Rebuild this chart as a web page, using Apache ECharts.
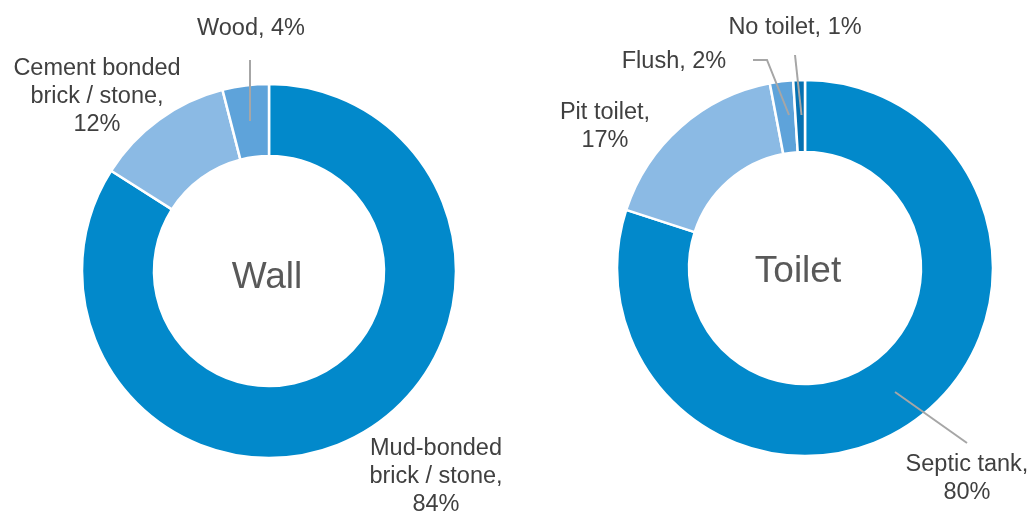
<!DOCTYPE html>
<html>
<head>
<meta charset="utf-8">
<script src="https://cdn.jsdelivr.net/npm/echarts@6/dist/echarts.min.js"></script>
<style>
html,body{margin:0;padding:0;background:#fff;}
#main{width:1030px;height:512px;}
</style>
</head>
<body>
<div id="main"></div>
<script>
// data
var wallNames=['Mud-bonded\nbrick / stone','Cement bonded\nbrick / stone','Wood'];
var wallValues=[84,12,4];
var toiletNames=['Septic tank','Pit toilet','Flush','No toilet'];
var toiletValues=[80,17,2,1];

var wallColors=['#0289cb','#8bbae4','#5ea3da'];
var toiletColors=['#0289cb','#8bbae4','#5ea3da','#0671b1'];

// label placement (x,y = centre of label), leader line if any
var wallLabels=[
  {x:436,y:477,br:true},
  {x:97,y:97,br:true},
  {x:251,y:29,br:false,line:[[250,121],[250,60]]}
];
var toiletLabels=[
  {x:967,y:479,br:true,line:[[895,392],[967,443]]},
  {x:605,y:127,br:true},
  {x:674,y:62,br:false,line:[[789,115],[767,60],[753,60]]},
  {x:795,y:28,br:false,line:[[801.5,115],[795,55]]}
];

var myChart=echarts.init(document.getElementById('main'));

function buildData(names,values,colors){
  return names.map(function(n,i){
    return {name:n,value:values[i],itemStyle:{color:colors[i]}};
  });
}

function makeSeries(names,values,colors,labels,center,radius){
  return {
    type:'pie',
    center:center,
    radius:radius,
    startAngle:90,
    clockwise:true,
    animation:false,
    avoidLabelOverlap:false,
    itemStyle:{borderColor:'#fff',borderWidth:2.5},
    label:{
      show:true,
      position:'outside',
      color:'#404040',
      fontFamily:'Liberation Sans, Arial, sans-serif',
      fontSize:23.5,
      lineHeight:28,
      align:'center',
      formatter:function(p){
        return p.name+','+(labels[p.dataIndex].br?'\n':' ')+p.value+'%';
      }
    },
    labelLine:{show:false},
    labelLayout:function(p){
      var l=labels[p.dataIndex];
      return {x:l.x,y:l.y,align:'center',verticalAlign:'middle'};
    },
    emphasis:{disabled:true},
    data:buildData(names,values,colors)
  };
}

// leader lines drawn on top of the rings
function leaderLines(labels){
  return labels.filter(function(l){return l.line;}).map(function(l){
    return {type:'polyline',z:100,shape:{points:l.line},style:{stroke:'#a6a6a6',lineWidth:2,fill:null}};
  });
}

option={
  backgroundColor:'#fff',
  series:[
    makeSeries(wallNames,wallValues,wallColors,wallLabels,[269,271],[115,187]),
    makeSeries(toiletNames,toiletValues,toiletColors,toiletLabels,[805,268],[116,188])
  ],
  graphic:[
    {type:'text',x:267,y:278,style:{text:'Wall',fill:'#595959',fontSize:37,fontFamily:'Liberation Sans, Arial, sans-serif',align:'center',verticalAlign:'middle'}},
    {type:'text',x:798,y:272,style:{text:'Toilet',fill:'#595959',fontSize:37,fontFamily:'Liberation Sans, Arial, sans-serif',align:'center',verticalAlign:'middle'}}
  ].concat(leaderLines(wallLabels),leaderLines(toiletLabels))
};

myChart.setOption(option);
</script>
</body>
</html>
